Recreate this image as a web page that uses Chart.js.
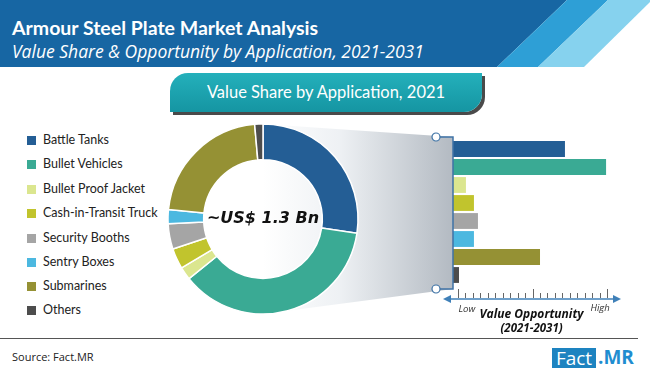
<!DOCTYPE html>
<html>
<head>
<meta charset="utf-8">
<script src="https://cdn.jsdelivr.net/npm/chart.js@4"></script>
<style>
  body { margin: 0; width: 650px; height: 373px; overflow: hidden; background: #fff; font-family: Lato, "Open Sans", sans-serif; }
  .abs { position: absolute; }
  #legend div { position: absolute; left: 27px; font-size: 12.5px; color: #222; height: 14px; line-height: 14px; }
  #legend span { display: inline-block; width: 9px; height: 9px; margin-right: 7px; vertical-align: -1px; }
</style>
</head>
<body>
<!-- header band -->
<div class="abs" style="left:0;top:0;width:650px;height:67px;background:#1766a3;clip-path:polygon(0 0,567px 0,497px 67px,0 67px);"></div>
<div class="abs" style="left:0;top:0;width:650px;height:67px;background:#2e9fd6;clip-path:polygon(567px 0,608px 0,538px 67px,497px 67px);"></div>
<div class="abs" style="left:0;top:0;width:650px;height:67px;background:#86d2ee;clip-path:polygon(608px 0,650px 0,650px 2px,584px 67px,538px 67px);"></div>
<div class="abs" style="left:12px;top:16px;color:#fff;font:bold 19.5px Lato;">Armour Steel Plate Market Analysis</div>
<div class="abs" style="left:12px;top:39px;color:#fff;font:italic 17.5px 'Open Sans';">Value Share &amp; Opportunity by Application, 2021-2031</div>

<!-- sub heading pill -->
<div class="abs" style="left:170px;top:73px;width:312px;height:39px;border-radius:18px 0 18px 0;background:linear-gradient(#24b0bb,#1595a2);box-shadow:3px 3px 0 #4a4a4a;color:#fff;font:16.5px Lato;text-align:center;line-height:39px;">Value Share by Application, 2021</div>

<!-- gradient link between donut and bars -->
<div class="abs" style="left:263px;top:124px;width:190px;height:190px;background:linear-gradient(to right,#ffffff 0%,#eef1f4 40%,#b3bac2 100%);clip-path:polygon(0 0,190px 13px,190px 165px,0 190px);"></div>

<div id="legend"></div>

<div class="abs" style="left:163px;top:119px;width:200px;height:200px;"><canvas id="donut"></canvas></div>
<div class="abs" style="left:425px;top:128px;width:225px;height:209px;"><canvas id="bars"></canvas></div>

<!-- footer -->
<div class="abs" style="left:0;top:338px;width:638px;height:1px;background:#555;"></div>
<div class="abs" style="left:12px;top:349px;font:11px 'Open Sans';color:#222;">Source: Fact.MR</div>
<div class="abs" style="left:552px;top:348px;width:44px;height:20px;background:#1d83c0;color:#fff;font:19px 'Open Sans';line-height:20px;text-align:center;">Fact</div>
<div class="abs" style="left:598px;top:346px;color:#1f8dd0;font:bold 19px 'Open Sans';line-height:22px;">.MR</div>

<script>
const applications = ['Battle Tanks', 'Bullet Vehicles', 'Bullet Proof Jacket', 'Cash-in-Transit Truck',
  'Security Booths', 'Sentry Boxes', 'Submarines', 'Others'];
const valueShare2021 = [27.4, 36.8, 2.2, 3.5, 4.3, 2.4, 22.0, 1.4];
const valueOpportunity = [72.7, 99.4, 8.4, 13.6, 16.2, 13.6, 56.5, 3.9];
const colors = ['#245e95', '#3aaa94', '#dbe68f', '#c1c42d', '#a5a5a5', '#4cb8e0', '#959134', '#4d4d4d'];
const centerLabel = '~US$ 1.3 Bn';

// legend
const legendRows = [140, 164, 189, 213, 238, 262, 286, 310];
const legend = document.getElementById('legend');
applications.forEach((name, i) => {
  const d = document.createElement('div');
  d.style.top = (legendRows[i] - 7) + 'px';
  d.innerHTML = '<span style="background:' + colors[i] + '"></span>' + name;
  legend.appendChild(d);
});

const centerText = {
  id: 'centerText',
  afterDraw(chart) {
    const ctx = chart.ctx;
    const meta = chart.getDatasetMeta(0).data[0];
    ctx.save();
    ctx.font = 'bold italic 16px "DejaVu Sans"';
    ctx.fillStyle = '#111';
    ctx.textAlign = 'center';
    ctx.textBaseline = 'middle';
    ctx.fillText(centerLabel, meta.x, meta.y);
    ctx.restore();
  }
};

new Chart(document.getElementById('donut'), {
  type: 'doughnut',
  data: {
    labels: applications,
    datasets: [{ data: valueShare2021, backgroundColor: colors, borderColor: '#fff', borderWidth: 1.5 }]
  },
  options: {
    responsive: true,
    maintainAspectRatio: false,
    animation: false,
    radius: 95,
    cutout: 62,
    plugins: { legend: { display: false }, tooltip: { enabled: false } }
  },
  plugins: [centerText]
});

const opportunityAxis = {
  id: 'opportunityAxis',
  afterDraw(chart) {
    const ctx = chart.ctx;
    const xs = chart.scales.x;
    const area = chart.chartArea;
    const x0 = xs.getPixelForValue(0);
    const top = area.top - 3, bottom = area.bottom + 5;
    ctx.save();
    // bracket
    ctx.strokeStyle = '#3f73a6';
    ctx.lineWidth = 1.5;
    ctx.beginPath();
    ctx.moveTo(x0 - 13, top); ctx.lineTo(x0, top); ctx.lineTo(x0, bottom); ctx.lineTo(x0 - 13, bottom);
    ctx.stroke();
    [top, bottom].forEach(y => {
      ctx.beginPath();
      ctx.arc(x0 - 17, y, 4, 0, Math.PI * 2);
      ctx.fillStyle = '#fff';
      ctx.fill();
      ctx.lineWidth = 1.2;
      ctx.stroke();
    });
    // arrow axis
    const ay = bottom + 10;
    const left = x0 - 10, right = xs.getPixelForValue(100) + 14;
    ctx.strokeStyle = '#3f80b8';
    ctx.fillStyle = '#3f80b8';
    ctx.lineWidth = 1.5;
    ctx.beginPath(); ctx.moveTo(left + 4, ay); ctx.lineTo(right - 4, ay); ctx.stroke();
    ctx.beginPath(); ctx.moveTo(left, ay); ctx.lineTo(left + 8, ay - 4); ctx.lineTo(left + 8, ay + 4); ctx.closePath(); ctx.fill();
    ctx.beginPath(); ctx.moveTo(right, ay); ctx.lineTo(right - 8, ay - 4); ctx.lineTo(right - 8, ay + 4); ctx.closePath(); ctx.fill();
    // ticks
    ctx.strokeStyle = '#666';
    ctx.lineWidth = 1;
    for (let i = 0; i <= 20; i++) {
      const px = Math.round(xs.getPixelForValue(3.25 + i * 4.84)) + 0.5;
      const h = (i % 10 === 0) ? 9 : 5;
      ctx.beginPath(); ctx.moveTo(px, ay - 1); ctx.lineTo(px, ay - 1 - h); ctx.stroke();
    }
    // labels
    ctx.fillStyle = '#333';
    ctx.textAlign = 'center';
    ctx.textBaseline = 'middle';
    ctx.font = 'italic 9.5px "Open Sans"';
    ctx.fillText('Low', xs.getPixelForValue(9), ay + 10);
    ctx.fillText('High', xs.getPixelForValue(95.5), ay + 9);
    ctx.fillStyle = '#111';
    ctx.font = 'bold italic 12px "Open Sans"';
    ctx.fillText('Value Opportunity', xs.getPixelForValue(51), ay + 16);
    ctx.font = 'bold italic 11.5px "Open Sans"';
    ctx.fillText('(2021-2031)', xs.getPixelForValue(51), ay + 30);
    ctx.restore();
  }
};

new Chart(document.getElementById('bars'), {
  type: 'bar',
  data: {
    labels: applications,
    datasets: [{ data: valueOpportunity, backgroundColor: colors, categoryPercentage: 1, barPercentage: 0.88 }]
  },
  options: {
    indexAxis: 'y',
    responsive: true,
    maintainAspectRatio: false,
    animation: false,
    layout: { padding: { left: 28, right: 43, top: 12, bottom: 53 } },
    scales: {
      x: { display: false, min: 0, max: 100 },
      y: { display: false }
    },
    plugins: { legend: { display: false }, tooltip: { enabled: false } }
  },
  plugins: [opportunityAxis]
});
</script>
</body>
</html>
